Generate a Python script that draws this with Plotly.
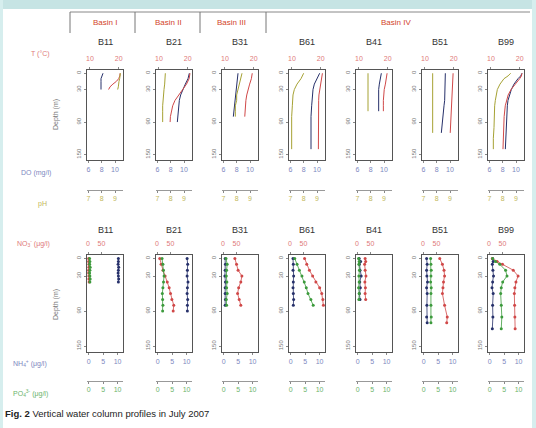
import plotly.graph_objects as go

W, H = 536, 428

STATIONS = ["B11", "B21", "B31", "B61", "B41", "B51", "B99"]
BASINS = ["Basin I", "Basin II", "Basin III", "Basin IV"]

# ---- CTD profiles (depth m, temperature degC, dissolved oxygen mg/l, pH)
ctd_depth = [
    [0, 5, 10, 15, 20, 25, 30],
    [0, 10, 20, 30, 40, 50, 60, 70, 80, 90],
    [0, 10, 20, 30, 40, 50, 60, 70, 80],
    [0, 10, 20, 30, 40, 50, 60, 80, 100, 120, 140],
    [0, 10, 20, 30, 40, 50, 60, 70],
    [0, 10, 20, 30, 40, 50, 60, 70, 80, 90, 100, 110],
    [0, 5, 10, 20, 30, 40, 50, 60, 80, 100, 120, 140],
]
ctd_temp = [
    [20.5, 20.4, 20.0, 19.2, 18.0, 17.0, 16.5],
    [20.8, 20.5, 19.6, 18.2, 16.8, 15.6, 14.8, 14.3, 14.0, 13.9],
    [19.5, 19.2, 18.6, 18.0, 17.6, 17.3, 17.1, 17.0, 16.9],
    [20.6, 20.3, 19.8, 19.5, 19.4, 19.3, 19.3, 19.2, 19.2, 19.2, 19.2],
    [19.8, 19.6, 19.2, 18.8, 18.6, 18.5, 18.5, 18.5],
    [19.8, 19.7, 19.6, 19.5, 19.4, 19.3, 19.2, 19.1, 19.0, 18.9, 18.8, 18.8],
    [20.8, 20.6, 20.0, 18.5, 17.0, 16.0, 15.4, 15.0, 14.6, 14.4, 14.3, 14.2],
]
ctd_do = [
    [8.2, 8.0, 7.9, 7.9, 7.9, 7.9, 7.9],
    [10.8, 10.6, 10.2, 9.8, 9.5, 9.3, 9.2, 9.1, 9.1, 9.0],
    [8.2, 8.1, 8.0, 7.9, 7.8, 7.7, 7.6, 7.6, 7.5],
    [10.4, 10.0, 9.6, 9.4, 9.3, 9.2, 9.2, 9.1, 9.1, 9.1, 9.1],
    [9.6, 9.4, 9.3, 9.2, 9.2, 9.2, 9.2, 9.2],
    [9.3, 9.3, 9.3, 9.3, 9.2, 9.2, 9.1, 9.0, 8.9, 8.8, 8.7, 8.7],
    [10.9, 10.7, 10.3, 9.7, 9.3, 9.0, 8.8, 8.7, 8.6, 8.5, 8.5, 8.4],
]
ctd_ph = [
    [9.4, 9.4, 9.35, 9.3, 9.3, 9.25, 9.2],
    [7.6, 7.6, 7.55, 7.5, 7.45, 7.4, 7.4, 7.4, 7.4, 7.4],
    [8.4, 8.3, 8.2, 8.1, 8.0, 8.0, 7.9, 7.9, 7.9],
    [8.0, 7.8, 7.5, 7.3, 7.2, 7.2, 7.15, 7.1, 7.1, 7.1, 7.1],
    [7.8, 7.8, 7.8, 7.8, 7.8, 7.8, 7.8, 7.8],
    [7.7, 7.7, 7.7, 7.7, 7.7, 7.7, 7.7, 7.7, 7.7, 7.7, 7.7, 7.7],
    [8.6, 8.4, 8.1, 7.8, 7.6, 7.5, 7.45, 7.4, 7.4, 7.35, 7.3, 7.3],
]

# ---- Nutrient samples (depth m, NO3- / NH4+ / PO4 3- in ug/l)
nut_depth = [
    [0, 5, 10, 15, 20, 25, 30, 35, 40],
    [0, 10, 20, 30, 40, 50, 60, 70, 80, 90],
    [0, 10, 20, 30, 40, 50, 60, 70, 80],
    [0, 10, 20, 30, 40, 50, 60, 70, 80],
    [0, 5, 10, 20, 30, 40, 50, 60, 70],
    [0, 10, 20, 30, 40, 50, 60, 80, 100, 110],
    [0, 5, 10, 20, 30, 40, 50, 60, 80, 100, 120],
]
nut_no3 = [
    [2, 2, 3, 3, 2, 2, 3, 3, 4],
    [10, 15, 22, 30, 38, 45, 50, 55, 62, 60],
    [44, 50, 56, 70, 66, 58, 54, 60, 66],
    [54, 62, 72, 84, 96, 110, 118, 122, 124],
    [30, 32, 28, 30, 33, 29, 31, 30, 32],
    [62, 72, 78, 80, 76, 74, 72, 80, 90, 88],
    [12, 30, 50, 90, 108, 100, 96, 94, 95, 96, 97],
]
nut_nh4 = [
    [10.3, 10.3, 10.2, 10.4, 10.3, 10.2, 10.3, 10.4, 10.3],
    [10.2, 10.4, 10.3, 10.2, 10.5, 10.3, 10.2, 10.4, 10.3, 10.3],
    [0.5, 0.6, 0.5, 0.4, 0.6, 0.5, 0.5, 0.6, 0.5],
    [0.8, 0.9, 0.8, 1.0, 0.9, 0.8, 0.9, 1.0, 0.9],
    [0.5, 1.0, 0.6, 0.8, 1.2, 0.7, 0.9, 0.6, 0.8],
    [1.0, 1.2, 1.0, 1.1, 1.3, 1.0, 1.2, 1.1, 1.0, 1.2],
    [1.0, 1.2, 0.9, 1.1, 1.3, 1.0, 0.8, 1.2, 1.0, 1.1, 0.9],
]
nut_po4 = [
    [0.3, 0.4, 0.3, 0.5, 0.4, 0.3, 0.4, 0.5, 0.4],
    [1.5, 1.8, 2.0, 2.2, 2.0, 1.8, 1.6, 1.7, 1.8, 1.7],
    [0.8, 1.2, 1.0, 0.9, 1.1, 1.0, 1.2, 0.9, 1.0],
    [1.4, 2.2, 3.0, 3.9, 4.7, 5.4, 6.0, 7.0, 7.8],
    [0.3, 0.5, 0.4, 0.6, 0.4, 0.5, 0.3, 0.5, 0.4],
    [2.4, 2.5, 2.6, 2.5, 2.4, 2.6, 2.5, 2.5, 2.6, 2.5],
    [1.0, 2.0, 3.5, 5.5, 6.0, 4.5, 4.0, 3.8, 4.0, 4.2, 4.0],
]

# ---- styling
FONT = "Liberation Sans, Arial, sans-serif"
C_RED = "#d04848"
C_BLUE = "#26306a"
C_OLIVE = "#a6a234"
C_GREEN = "#3c9a3c"
C_TICK_RED = "#e07a7a"
C_TICK_BLUE = "#7d88c0"
C_TICK_OLIVE = "#c2b85a"
C_TICK_GREEN = "#6cb46c"

PANEL_LEFT = [87, 156, 222, 289, 356, 422, 488]
PANEL_W = 36
ROW_TOP = [70, 255]
ROW_BOTTOM = [160, 352]
FREE_AXIS_Y = [190, 381]
TITLE_Y = [42, 230]


def px(x):
    return x / W


def py(y):
    return 1 - y / H


fig = go.Figure()
layout = {}

row_specs = [
    dict(top=dict(range=[9, 21.5], tickvals=[10, 20], color=C_TICK_RED),
         bot=dict(range=[5.8, 11.2], tickvals=[6, 8, 10], color=C_TICK_BLUE),
         free=dict(range=[6.9, 9.6], tickvals=[7, 8, 9], color=C_TICK_OLIVE)),
    dict(top=dict(range=[-4, 130], tickvals=[0, 50], color=C_TICK_RED),
         bot=dict(range=[-0.6, 11.9], tickvals=[0, 5, 10], color=C_TICK_BLUE),
         free=dict(range=[-0.6, 11.9], tickvals=[0, 5, 10], color=C_TICK_GREEN)),
]

common = dict(showgrid=False, zeroline=False, ticks="outside", ticklen=2,
              tickwidth=1, tickcolor="#888", fixedrange=True)


def key(letter, n):
    return f"{letter}axis" if n == 1 else f"{letter}axis{n}"


for r in range(2):
    spec = row_specs[r]
    for i, st in enumerate(STATIONS):
        k = r * 7 + i
        nb, nt, nf = 3 * k + 1, 3 * k + 2, 3 * k + 3
        ny = k + 1
        dom_x = [px(PANEL_LEFT[i]), px(PANEL_LEFT[i] + PANEL_W)]
        dom_y = [py(ROW_BOTTOM[r]), py(ROW_TOP[r])]

        layout[key("x", nb)] = dict(
            common, domain=dom_x, anchor=f"y{ny}", side="bottom",
            range=spec["bot"]["range"], tickvals=spec["bot"]["tickvals"],
            tickfont=dict(size=7, color=spec["bot"]["color"]),
            showline=True, linecolor="#555", linewidth=1.3, mirror=True)
        layout[key("x", nt)] = dict(
            common, domain=dom_x, anchor=f"y{ny}", side="top",
            overlaying=f"x{nb}",
            range=spec["top"]["range"], tickvals=spec["top"]["tickvals"],
            tickfont=dict(size=7, color=spec["top"]["color"]),
            ticklabelstandoff=3, showline=False)
        layout[key("x", nf)] = dict(
            common, domain=dom_x, anchor="free", position=py(FREE_AXIS_Y[r]),
            side="bottom", overlaying=f"x{nb}",
            range=spec["free"]["range"], tickvals=spec["free"]["tickvals"],
            tickfont=dict(size=7, color=spec["free"]["color"]),
            showline=True, linecolor="#999", linewidth=1)
        layout[key("y", ny)] = dict(
            common, domain=dom_y, anchor=f"x{nb}", range=[160, -6],
            tickvals=[0, 30, 90, 150], tickangle=-90,
            tickfont=dict(size=6, color="#777"),
            showline=True, linecolor="#555", linewidth=1.3, mirror=True)

        if r == 0:
            series = [
                (ctd_temp[i], nt, C_RED),
                (ctd_do[i], nb, C_BLUE),
                (ctd_ph[i], nf, C_OLIVE),
            ]
            depth = ctd_depth[i]
            for vals, nx, col in series:
                fig.add_trace(go.Scatter(
                    x=vals, y=depth, xaxis=f"x{nx}", yaxis=f"y{ny}",
                    mode="lines", line=dict(color=col, width=1),
                    showlegend=False, hoverinfo="skip"))
        else:
            series = [
                (nut_po4[i], nf, C_GREEN),
                (nut_no3[i], nt, C_RED),
                (nut_nh4[i], nb, C_BLUE),
            ]
            depth = nut_depth[i]
            for vals, nx, col in series:
                fig.add_trace(go.Scatter(
                    x=vals, y=depth, xaxis=f"x{nx}", yaxis=f"y{ny}",
                    mode="lines+markers", line=dict(color=col, width=0.8),
                    marker=dict(color=col, size=3),
                    showlegend=False, hoverinfo="skip"))


def label(text, x, y, size, color, angle=0, xanchor="center"):
    return dict(text=text, x=px(x), y=py(y), xref="paper", yref="paper",
                xanchor=xanchor, yanchor="middle", showarrow=False,
                textangle=angle, font=dict(size=size, color=color, family=FONT))


annotations = []
for r in range(2):
    for i, st in enumerate(STATIONS):
        annotations.append(label(st, PANEL_LEFT[i] + PANEL_W / 2, TITLE_Y[r],
                                 9, "#333"))

basin_x = [105, 168, 232, 396]
for name, bx in zip(BASINS, basin_x):
    annotations.append(label(name, bx, 23, 8, "#d2452a"))

side_labels = [
    ("T (°C)", 40, 54, C_TICK_RED, 0),
    ("Depth (m)", 56, 115, "#777", -90),
    ("DO (mg/l)", 36, 173, C_TICK_BLUE, 0),
    ("pH", 42, 204, C_TICK_OLIVE, 0),
    ("NO<sub>3</sub><sup>-</sup> (μg/l)", 33, 243, C_TICK_RED, 0),
    ("Depth (m)", 56, 305, "#777", -90),
    ("NH<sub>4</sub><sup>+</sup> (μg/l)", 30, 363, C_TICK_BLUE, 0),
    ("PO<sub>4</sub><sup>3-</sup> (μg/l)", 30, 393, C_TICK_GREEN, 0),
]
for txt, lx, ly, col, ang in side_labels:
    annotations.append(label(txt, lx, ly, 7, col, ang))

annotations.append(label(
    "<b>Fig. 2</b> Vertical water column profiles in July 2007",
    3, 413, 9.5, "#222", xanchor="left"))

shapes = [
    dict(type="rect", xref="paper", yref="paper", x0=0, x1=1,
         y0=py(9), y1=1, fillcolor="#c6e4e4", line=dict(width=0), layer="below"),
    dict(type="rect", xref="paper", yref="paper", x0=0, x1=px(3),
         y0=0, y1=1, fillcolor="#d6eeee", line=dict(width=0), layer="below"),
    dict(type="rect", xref="paper", yref="paper", x0=px(532), x1=1,
         y0=0, y1=1, fillcolor="#d6eeee", line=dict(width=0), layer="below"),
    dict(type="line", xref="paper", yref="paper", x0=px(70), x1=px(530),
         y0=py(12), y1=py(12), line=dict(color="#888", width=1)),
]
for vx in [70, 135, 200, 266]:
    shapes.append(dict(type="line", xref="paper", yref="paper",
                       x0=px(vx), x1=px(vx), y0=py(12), y1=py(33),
                       line=dict(color="#777", width=1)))

fig.update_layout(
    **layout,
    width=W, height=H,
    margin=dict(l=0, r=0, t=0, b=0),
    paper_bgcolor="white", plot_bgcolor="white",
    font=dict(family=FONT),
    annotations=annotations, shapes=shapes,
    showlegend=False,
)

fig.write_html("out.html")
